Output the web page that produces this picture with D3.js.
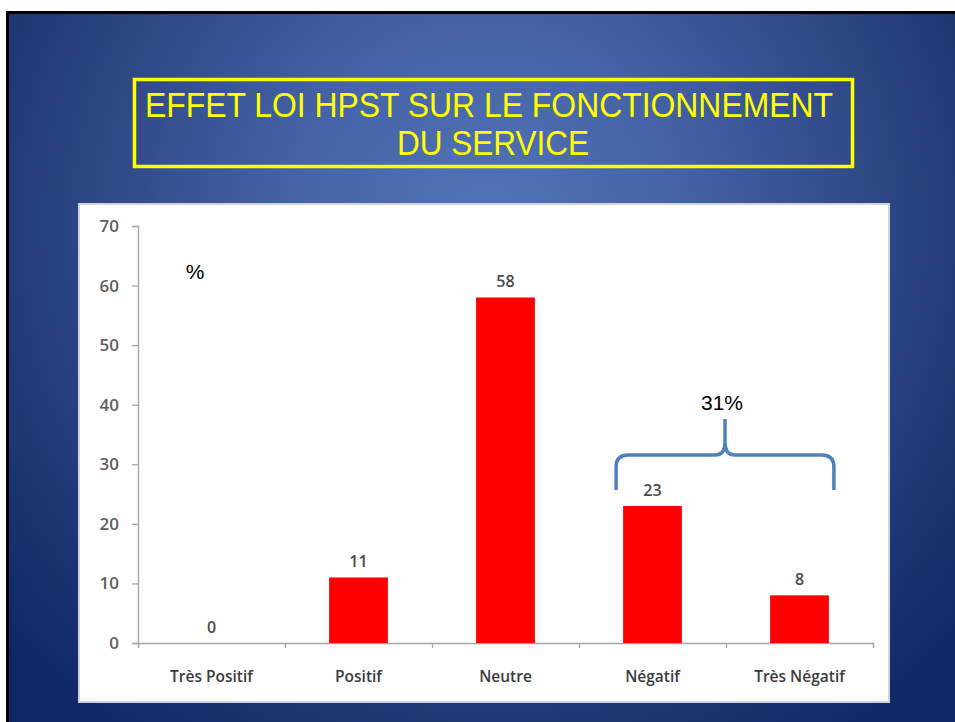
<!DOCTYPE html>
<html>
<head>
<meta charset="utf-8">
<script src="https://cdn.jsdelivr.net/npm/d3@7"></script>
<style>
  html, body { margin: 0; padding: 0; background: #ffffff; }
  svg { display: block; }
</style>
</head>
<body>
<svg id="chart" width="955" height="722"></svg>
<script>
// ---- data ----
const categories = ["Très Positif", "Positif", "Neutre", "Négatif", "Très Négatif"];
const values = [0, 11, 58, 23, 8];
const yTicks = [0, 10, 20, 30, 40, 50, 60, 70];
const titleLines = ["EFFET LOI HPST SUR LE FONCTIONNEMENT", "DU SERVICE"];
const unitLabel = "%";
const bracketLabel = "31%";
const bracketCats = ["Négatif", "Très Négatif"];

const svg = d3.select("#chart");
const defs = svg.append("defs");
const grad = defs.append("radialGradient")
  .attr("id", "bg").attr("gradientUnits", "userSpaceOnUse")
  .attr("cx", 485).attr("cy", 220).attr("r", 640);
[[0, "#5374b9"], [0.3, "#4563a6"], [0.6, "#2f4886"], [0.85, "#1b3271"], [1, "#112767"]]
  .forEach(([o, c]) => grad.append("stop").attr("offset", o).attr("stop-color", c));

// slide
svg.append("rect").attr("x", 6).attr("y", 11).attr("width", 960).attr("height", 720).attr("fill", "#000");
svg.append("rect").attr("x", 9).attr("y", 14).attr("width", 960).attr("height", 720).attr("fill", "url(#bg)");

// title box
svg.append("rect").attr("x", 134.5).attr("y", 79.5).attr("width", 718).attr("height", 87)
  .attr("fill", "none").attr("stroke", "#ffff00").attr("stroke-width", 3.5);
const titleWidths = [688, 192];
const titleCenters = [489, 493];
svg.selectAll("text.title").data(titleLines).join("text")
  .attr("class", "title")
  .attr("x", (d, i) => titleCenters[i]).attr("y", (d, i) => 117 + i * 38)
  .attr("text-anchor", "middle")
  .attr("font-family", "'Liberation Sans', Arial, sans-serif")
  .attr("font-size", 35)
  .attr("textLength", (d, i) => titleWidths[i])
  .attr("lengthAdjust", "spacingAndGlyphs")
  .attr("fill", "#ffff00")
  .text(d => d);

// chart panel
svg.append("rect").attr("x", 79).attr("y", 204).attr("width", 810).attr("height", 498)
  .attr("fill", "#fefefe").attr("stroke", "#cfd3da").attr("stroke-width", 2);

const x = d3.scaleBand().domain(categories).range([138, 873]).paddingInner(0.6).paddingOuter(0.3);
const y = d3.scaleLinear().domain([0, 70]).range([643, 226]);
const xb = d3.scaleLinear().domain([0, categories.length]).range([138, 873]);

const axisColor = "#a6a6a6";
const labelFont = "'Open Sans', Lato, sans-serif";

// y axis
const gy = svg.append("g").attr("transform", "translate(138,0)")
  .call(d3.axisLeft(y).tickValues(yTicks).tickSize(6).tickPadding(13));
gy.select(".domain").attr("stroke", axisColor).attr("stroke-width", 1.3);
gy.selectAll(".tick line").attr("stroke", axisColor).attr("stroke-width", 1.3);
gy.selectAll(".tick text").attr("font-family", labelFont).attr("font-size", 17)
  .attr("font-weight", 600).attr("fill", "#5f5f5f");

// x axis (category boundary ticks)
const gx = svg.append("g").attr("transform", "translate(0,643)")
  .call(d3.axisBottom(xb).tickValues(d3.range(categories.length + 1)).tickSize(5).tickFormat(""));
gx.select(".domain").attr("stroke", axisColor).attr("stroke-width", 1.3);
gx.selectAll(".tick line").attr("stroke", axisColor).attr("stroke-width", 1.3);

// category labels
svg.selectAll("text.cat").data(categories).join("text")
  .attr("class", "cat")
  .attr("x", d => x(d) + x.bandwidth() / 2).attr("y", 682)
  .attr("text-anchor", "middle")
  .attr("font-family", labelFont).attr("font-size", 15.5).attr("font-weight", 600)
  .attr("fill", "#3c3c3c")
  .text(d => d);

// bars
svg.selectAll("rect.bar").data(values).join("rect")
  .attr("class", "bar")
  .attr("x", (d, i) => x(categories[i]))
  .attr("y", d => y(d))
  .attr("width", x.bandwidth())
  .attr("height", d => y(0) - y(d))
  .attr("fill", "#ff0000");

// value labels
svg.selectAll("text.val").data(values).join("text")
  .attr("class", "val")
  .attr("x", (d, i) => x(categories[i]) + x.bandwidth() / 2)
  .attr("y", d => y(d) - 10)
  .attr("text-anchor", "middle")
  .attr("font-family", labelFont).attr("font-size", 16).attr("font-weight", 600)
  .attr("fill", "#4a4a4a")
  .text(d => d);

// % label
svg.append("text").attr("x", 195).attr("y", 279).attr("text-anchor", "middle")
  .attr("font-family", "'Liberation Sans', Arial, sans-serif").attr("font-size", 21)
  .attr("fill", "#000").text(unitLabel);

// bracket
const left = x(bracketCats[0]) - 7;
const right = x(bracketCats[1]) + x.bandwidth() + 5;
const mid = (left + right) / 2;
const yb = 490, yh = 455, yt = 419;
const p = d3.path();
p.moveTo(left, yb);
p.lineTo(left, yh + 12);
p.quadraticCurveTo(left, yh, left + 12, yh);
p.lineTo(mid - 10, yh);
p.quadraticCurveTo(mid, yh, mid, yh - 12);
p.lineTo(mid, yt);
p.moveTo(mid, yh - 12);
p.quadraticCurveTo(mid, yh, mid + 10, yh);
p.lineTo(right - 12, yh);
p.quadraticCurveTo(right, yh, right, yh + 12);
p.lineTo(right, yb);
svg.append("path").attr("d", p.toString())
  .attr("fill", "none").attr("stroke", "#4f81bd").attr("stroke-width", 3.5)
  .attr("stroke-linejoin", "round");

svg.append("text").attr("x", mid - 3).attr("y", 410).attr("text-anchor", "middle")
  .attr("font-family", "'Liberation Sans', Arial, sans-serif").attr("font-size", 21)
  .attr("fill", "#000").text(bracketLabel);
</script>
</body>
</html>
